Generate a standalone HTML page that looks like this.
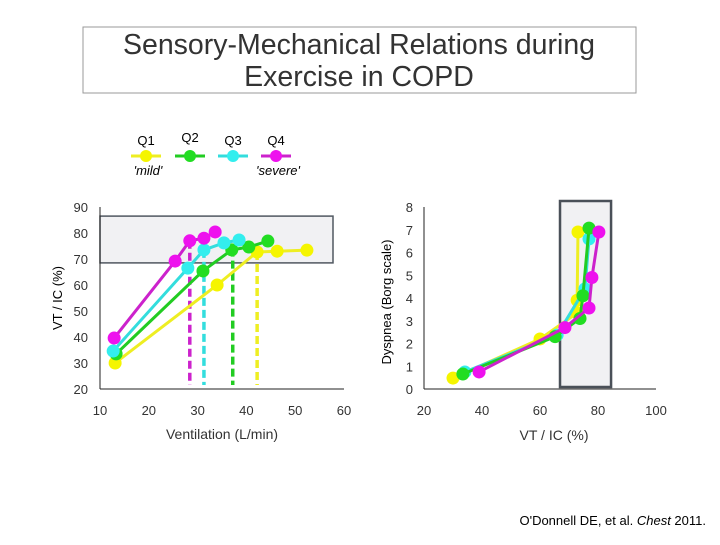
<!DOCTYPE html>
<html><head><meta charset="utf-8"><style>
body{margin:0;background:#fff;width:720px;height:540px;overflow:hidden;font-family:"Liberation Sans",sans-serif}
svg text{font-family:"Liberation Sans",sans-serif}
</style></head><body>
<svg id="c" width="720" height="540" xmlns="http://www.w3.org/2000/svg">
<rect x="83" y="27" width="553" height="66" fill="#fff" stroke="#999"/>
<text x="359" y="54" font-size="28.5" text-anchor="middle" fill="#333">Sensory-Mechanical Relations during</text>
<text x="359" y="86" font-size="28.5" text-anchor="middle" fill="#333">Exercise in COPD</text>
<g id="legend"></g>
<text x="148" y="175" font-size="13" font-style="italic" text-anchor="middle">'mild'</text>
<text x="278" y="175" font-size="13" font-style="italic" text-anchor="middle">'severe'</text>
<g id="left"></g>
<g id="right"></g>
<text x="62" y="298" font-size="13" text-anchor="middle" transform="rotate(-90 62 298)">VT / IC (%)</text>
<text x="222" y="439" font-size="14" text-anchor="middle" fill="#333">Ventilation (L/min)</text>
<text x="391" y="302" font-size="13" text-anchor="middle" transform="rotate(-90 391 302)">Dyspnea (Borg scale)</text>
<text x="554" y="440" font-size="14" text-anchor="middle" fill="#333">VT / IC (%)</text>
<text x="706" y="525" font-size="13" text-anchor="end">O'Donnell DE, et al. <tspan font-style="italic">Chest</tspan> 2011.</text>
</svg>
<script>
const seriesNames=["Q1","Q2","Q3","Q4"];
const fill=["#f5f500","#22dd22","#33eeee","#ee11ee"];
const stroke=["#eeee22","#22cc22","#33dddd","#cc22cc"];
const leftXTicks=[10,20,30,40,50,60];
const leftYTicks=[20,30,40,50,60,70,80,90];
const q1VentX=[13.1,34,42.2,46.3,52.4];
const q1VtIc=[30,60,72.7,73,73.4];
const q2VentX=[13.3,31.1,37,40.5,44.4];
const q2VtIc=[33.5,65.4,73.5,74.6,76.9];
const q3VentX=[12.7,28,31.3,35.4,38.5];
const q3VtIc=[34.6,66.5,73.5,76.2,77.3];
const q4VentX=[12.9,25.4,28.4,31.3,33.6];
const q4VtIc=[39.6,69.2,77,78,80.4];
const dashVent=[42.2,37.2,31.3,28.4];
const leftBand=[68.5,86.5];
const rightXTicks=[20,40,60,80,100];
const rightYTicks=[0,1,2,3,4,5,6,7,8];
const q1RVt=[30,60,72.8,72.8,73.1];
const q1Dysp=[0.48,2.2,3.34,3.9,6.9];
const q2RVt=[33.4,65.2,73.8,74.8,76.9];
const q2Dysp=[0.66,2.3,3.1,4.1,7.07];
const q3RVt=[34.1,65.9,75.5,76.9];
const q3Dysp=[0.75,2.37,4.4,6.6];
const q4RVt=[39,68.6,76.9,77.9,80.3];
const q4Dysp=[0.75,2.7,3.56,4.9,6.9];
const rightBand=[66.9,84.5];

const NS="http://www.w3.org/2000/svg";
function mk(p,t,a){const e=document.createElementNS(NS,t);for(const k in a)e.setAttribute(k,a[k]);p.appendChild(e);return e;}
const lx=v=>100+(v-10)*4.88, ly=v=>389-(v-20)*2.6;
const rx=v=>424+(v-20)*2.9, ry=v=>389-v*22.75;

const lg=document.getElementById('legend');
const lgX=[146,190,233,276];
seriesNames.forEach((n,i)=>{
 const t=mk(lg,'text',{x:lgX[i],y:i==1?142:145,'font-size':13,'text-anchor':'middle'});t.textContent=n;
 
 
 const l=mk(lg,'line',{x1:lgX[i]-15,x2:lgX[i]+15,y1:156,y2:156,stroke:stroke[i],'stroke-width':3});
 
 
 const c=mk(lg,'circle',{cx:lgX[i],cy:156,r:6,fill:fill[i]});
 
 
});

const L=document.getElementById('left');
const lb=mk(L,'rect',{x:lx(10),y:ly(leftBand[1]),width:333-lx(10),height:ly(leftBand[0])-ly(leftBand[1]),fill:'#f1f1f3',stroke:'#505860','stroke-width':1.5});


mk(L,'line',{x1:lx(10),x2:lx(10),y1:ly(90),y2:ly(20),stroke:'#222'});
mk(L,'line',{x1:lx(10),x2:lx(60),y1:ly(20),y2:ly(20),stroke:'#222'});
leftXTicks.forEach(v=>{const t=mk(L,'text',{x:lx(v),y:415,'font-size':13,'text-anchor':'middle',fill:'#333'});t.textContent=v;
 
 });
leftYTicks.forEach(v=>{const t=mk(L,'text',{x:88,y:ly(v)+5,'font-size':13,'text-anchor':'end',fill:'#333'});t.textContent=v;
 
 });
const LS=[[q1VentX,q1VtIc],[q2VentX,q2VtIc],[q3VentX,q3VtIc],[q4VentX,q4VtIc]];
dashVent.forEach((v,i)=>{
 const yv=LS[i][1][LS[i][0].indexOf(v)]; const top=isNaN(yv)?ly(74):ly(yv);
 const d=mk(L,'line',{x1:lx(v),x2:lx(v),y1:top,y2:385,stroke:stroke[i],'stroke-width':3.5,'stroke-dasharray':'8,4'});
 
 
});
function drawSeries(g,xs,ys,fx,fy,i,pre){
 const p=mk(g,'polyline',{points:xs.map((x,k)=>fx(x)+','+fy(ys[k])).join(' '),fill:'none',stroke:stroke[i],'stroke-width':3});
 
 
 xs.forEach((x,k)=>{const c=mk(g,'circle',{cx:fx(x),cy:fy(ys[k]),r:6.5,fill:fill[i]});
  
  });
}
LS.forEach((s,i)=>drawSeries(L,s[0],s[1],lx,ly,i,'left'));

const R=document.getElementById('right');
const rb=mk(R,'rect',{x:rx(rightBand[0]),y:201,width:rx(rightBand[1])-rx(rightBand[0]),height:186,fill:'#f1f1f3',stroke:'#4a5058','stroke-width':2.5});


mk(R,'line',{x1:424,x2:424,y1:ry(8),y2:ry(0),stroke:'#222'});
mk(R,'line',{x1:424,x2:rx(100),y1:ry(0),y2:ry(0),stroke:'#222'});
rightXTicks.forEach(v=>{const t=mk(R,'text',{x:rx(v),y:415,'font-size':13,'text-anchor':'middle',fill:'#333'});t.textContent=v;
 
 });
rightYTicks.forEach(v=>{const t=mk(R,'text',{x:413,y:ry(v)+5,'font-size':13,'text-anchor':'end',fill:'#333'});t.textContent=v;
 
 });
const RS=[[q1RVt,q1Dysp],[q2RVt,q2Dysp],[q3RVt,q3Dysp],[q4RVt,q4Dysp]];
[0,2,1,3].forEach(i=>drawSeries(R,RS[i][0],RS[i][1],rx,ry,i,'right'));
</script>
</body></html>
